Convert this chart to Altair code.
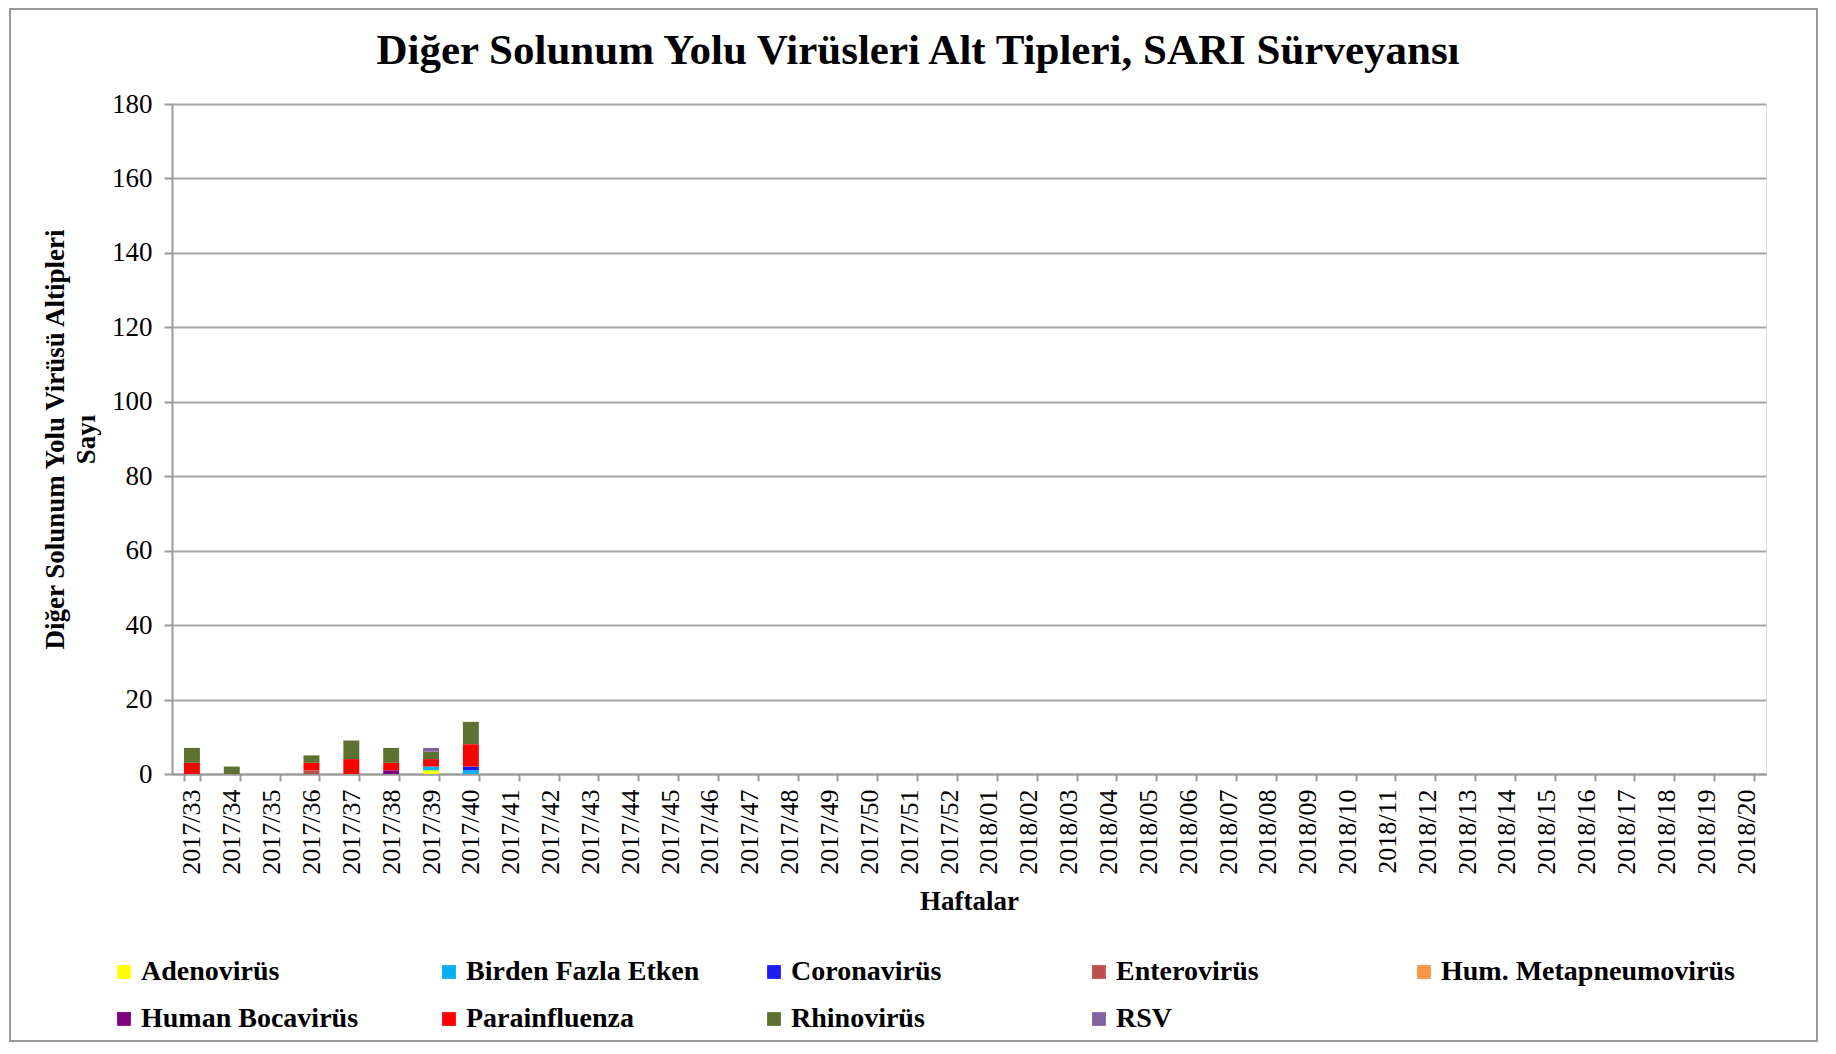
import altair as alt
import pandas as pd

weeks = [
    "2017/33", "2017/34", "2017/35", "2017/36", "2017/37", "2017/38", "2017/39", "2017/40",
    "2017/41", "2017/42", "2017/43", "2017/44", "2017/45", "2017/46", "2017/47", "2017/48",
    "2017/49", "2017/50", "2017/51", "2017/52", "2018/01", "2018/02", "2018/03", "2018/04",
    "2018/05", "2018/06", "2018/07", "2018/08", "2018/09", "2018/10", "2018/11", "2018/12",
    "2018/13", "2018/14", "2018/15", "2018/16", "2018/17", "2018/18", "2018/19", "2018/20",
]

viruses = [
    "Adenovirüs", "Birden Fazla Etken", "Coronavirüs", "Enterovirüs",
    "Hum. Metapneumovirüs", "Human Bocavirüs", "Parainfluenza", "Rhinovirüs", "RSV",
]
colors = [
    "#FFFF00", "#00B0F0", "#1C1CF0", "#C0504D",
    "#F79646", "#800080", "#FF0000", "#5E7130", "#8064A2",
]

#                week: 33 34 35 36 37 38 39 40 | 41 ... 2018/20
adenovirus      = [0, 0, 0, 0, 0, 0, 1, 0] + [0] * 32
birden_fazla    = [0, 0, 0, 0, 0, 0, 1, 1] + [0] * 32
coronavirus     = [0, 0, 0, 0, 0, 0, 0, 1] + [0] * 32
enterovirus     = [0, 0, 0, 1, 0, 0, 0, 0] + [0] * 32
metapneumovirus = [0, 0, 0, 0, 0, 0, 0, 0] + [0] * 32
bocavirus       = [0, 0, 0, 0, 0, 1, 0, 0] + [0] * 32
parainfluenza   = [3, 0, 0, 2, 4, 2, 2, 6] + [0] * 32
rhinovirus      = [4, 2, 0, 2, 5, 4, 2, 6] + [0] * 32
rsv             = [0, 0, 0, 0, 0, 0, 1, 0] + [0] * 32

series = [adenovirus, birden_fazla, coronavirus, enterovirus, metapneumovirus,
          bocavirus, parainfluenza, rhinovirus, rsv]

rows = []
for i, (name, vals) in enumerate(zip(viruses, series)):
    for w, v in zip(weeks, vals):
        rows.append({"Hafta": w, "Virus": name, "Sayi": v, "sira": i})
df = pd.DataFrame(rows)

FONT = "Liberation Serif"
GRID = "#A6A6A6"
AXIS = "#999999"

bars = alt.Chart(df).mark_bar().encode(
    x=alt.X(
        "Hafta:N",
        sort=weeks,
        scale=alt.Scale(domain=weeks, paddingInner=0.6, paddingOuter=0.3),
        axis=alt.Axis(
            title="Haftalar", labelAngle=-90, tickBand="extent",
            labelFont=FONT, labelFontSize=26, labelColor="black", labelPadding=8,
            domainColor=AXIS, domainWidth=2, tickColor=AXIS, tickWidth=2, tickSize=7,
            titleFont=FONT, titleFontSize=27, titleFontWeight="bold", titleColor="black",
            titlePadding=14, grid=False,
        ),
    ),
    y=alt.Y(
        "Sayi:Q",
        stack="zero",
        scale=alt.Scale(domain=[0, 180]),
        axis=alt.Axis(
            title=["Diğer Solunum Yolu Virüsü Altipleri", "Sayı"],
            values=[0, 20, 40, 60, 80, 100, 120, 140, 160, 180],
            labelFont=FONT, labelFontSize=27, labelColor="black", labelPadding=12,
            domainColor=AXIS, domainWidth=2, tickColor=AXIS, tickWidth=2, tickSize=8,
            gridColor=GRID, gridWidth=2,
            titleFont=FONT, titleFontSize=27, titleFontWeight="bold", titleColor="black",
            titleLineHeight=31, titlePadding=11,
        ),
    ),
    color=alt.Color(
        "Virus:N",
        scale=alt.Scale(domain=viruses, range=colors),
        legend=alt.Legend(
            title=None, orient="none", legendX=-62, legendY=854, direction="horizontal",
            columns=5, gridAlign="all", columnPadding=-3, rowPadding=19,
            symbolType="square", symbolSize=190, symbolStrokeWidth=0, symbolOffset=0,
            labelFont=FONT, labelFontSize=28, labelFontWeight="bold", labelColor="black",
            labelOffset=3, labelLimit=400,
        ),
    ),
    order=alt.Order("sira:Q", sort="ascending"),
)

frame = alt.Chart(pd.DataFrame({"f": [0]})).mark_rect(
    fill=None, stroke="#999999", strokeWidth=2
).encode(
    x=alt.value(-162), x2=alt.value(1645), y=alt.value(-95), y2=alt.value(937)
)

chart = alt.layer(bars, frame).properties(
    width=1594,
    height=670,
    autosize=alt.AutoSizeParams(type="none"),
    padding={"left": 164, "top": 96, "right": 62, "bottom": 268},
    title=alt.TitleParams(
        "Diğer Solunum Yolu Virüsleri Alt Tipleri, SARI Sürveyansı",
        font=FONT, fontSize=43, fontWeight="bold", color="black",
        anchor="middle", frame="group", dx=-51, dy=95, offset=30,
    ),
).configure_view(stroke=None).configure(background="white")

chart.save("out.html", embed_options={"renderer": "svg", "actions": False})
